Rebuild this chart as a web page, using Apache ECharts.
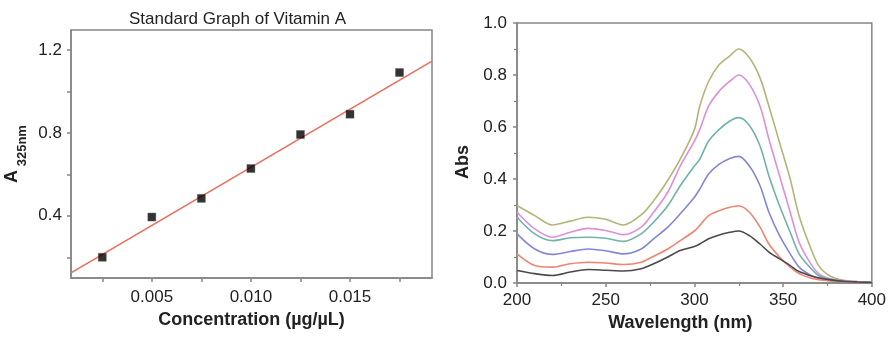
<!DOCTYPE html>
<html>
<head>
<meta charset="utf-8">
<script src="https://cdn.jsdelivr.net/npm/echarts@6/dist/echarts.min.js"></script>
<style>
  html, body { margin: 0; padding: 0; background: #fff; }
  #main { width: 889px; height: 337px; }
</style>
</head>
<body>
<div id="main"></div>
<script>
// standard curve (left)
var concX = [0.0025, 0.005, 0.0075, 0.010, 0.0125, 0.015, 0.0175];
var absY = [0.20, 0.394, 0.484, 0.628, 0.792, 0.89, 1.091];
// fitted line, read at the plot edges
var fitX = [0.00092, 0.01914];
var fitY = [0.125, 1.146];
var concTicks = [0.0025, 0.005, 0.0075, 0.010, 0.0125, 0.015, 0.0175];
var concLabels = [0.005, 0.010, 0.015];
var absTicks = [0.2, 0.4, 0.6, 0.8, 1.0, 1.2];
var absLabels = [0.4, 0.8, 1.2];

// spectra (right)
var wavelength = [200, 210, 220, 230, 240, 250, 260, 270, 277, 285, 292, 300, 303, 308, 314, 320, 325, 331, 337, 342, 348, 354, 359, 365, 370, 376, 384, 392, 400];
var olive  = [0.298, 0.259, 0.223, 0.238, 0.253, 0.245, 0.223, 0.262, 0.316, 0.395, 0.476, 0.59, 0.68, 0.775, 0.84, 0.874, 0.90, 0.866, 0.789, 0.68, 0.54, 0.40, 0.259, 0.144, 0.067, 0.029, 0.01, 0.006, 0.003];
var pink   = [0.272, 0.208, 0.176, 0.195, 0.21, 0.202, 0.186, 0.215, 0.272, 0.349, 0.45, 0.546, 0.59, 0.68, 0.738, 0.776, 0.80, 0.764, 0.68, 0.553, 0.412, 0.272, 0.157, 0.08, 0.036, 0.017, 0.008, 0.005, 0.003];
var teal   = [0.253, 0.189, 0.163, 0.174, 0.176, 0.172, 0.16, 0.189, 0.234, 0.297, 0.374, 0.45, 0.476, 0.546, 0.591, 0.623, 0.636, 0.606, 0.527, 0.412, 0.297, 0.195, 0.112, 0.061, 0.029, 0.015, 0.007, 0.004, 0.002];
var blue   = [0.189, 0.131, 0.11, 0.121, 0.131, 0.124, 0.112, 0.131, 0.17, 0.215, 0.266, 0.33, 0.361, 0.419, 0.457, 0.479, 0.487, 0.45, 0.374, 0.272, 0.182, 0.112, 0.061, 0.032, 0.017, 0.01, 0.006, 0.004, 0.002];
var orange = [0.112, 0.067, 0.061, 0.074, 0.08, 0.077, 0.071, 0.08, 0.103, 0.131, 0.163, 0.2, 0.221, 0.259, 0.278, 0.291, 0.297, 0.272, 0.215, 0.15, 0.10, 0.061, 0.036, 0.02, 0.013, 0.009, 0.006, 0.004, 0.002];
var black  = [0.048, 0.036, 0.029, 0.042, 0.052, 0.049, 0.046, 0.055, 0.074, 0.10, 0.125, 0.14, 0.15, 0.17, 0.185, 0.195, 0.20, 0.182, 0.15, 0.119, 0.093, 0.067, 0.044, 0.029, 0.02, 0.013, 0.007, 0.004, 0.002];

var spectra = [
    { name: 'c7', values: olive, color: '#b3b576' },
    { name: 'c6', values: pink, color: '#dd8fdf' },
    { name: 'c5', values: teal, color: '#6fb3ab' },
    { name: 'c4', values: blue, color: '#8486d9' },
    { name: 'c3', values: orange, color: '#ef8470' },
    { name: 'c2', values: black, color: '#4a4a4a' }
];

var FONT = 'Liberation Sans';
var boxColor = '#858585';

function zip(xs, ys) {
    return xs.map(function (x, i) { return [x, ys[i]]; });
}

var chart = echarts.init(document.getElementById('main'));

var axisCommon = {
    axisLine: { show: true, lineStyle: { color: boxColor, width: 1.5 } },
    axisTick: { show: true, inside: false, length: 4, lineStyle: { color: boxColor, width: 1.5 } },
    splitLine: { show: false },
    axisLabel: { color: '#222', fontFamily: FONT, fontSize: 17 }
};

var seriesList = [
    {
        type: 'line',
        xAxisIndex: 0, yAxisIndex: 0,
        data: zip(fitX, fitY),
        showSymbol: false,
        lineStyle: { color: '#ea6e5a', width: 1.6 },
        z: 2
    },
    {
        type: 'scatter',
        xAxisIndex: 0, yAxisIndex: 0,
        data: zip(concX, absY),
        symbol: 'rect',
        symbolSize: 8,
        itemStyle: { color: '#000', borderColor: '#555', borderWidth: 0.5 },
        z: 3
    }
];

spectra.forEach(function (s) {
    seriesList.push({
        type: 'line',
        name: s.name,
        xAxisIndex: 1, yAxisIndex: 1,
        data: zip(wavelength, s.values),
        showSymbol: false,
        smooth: 0.3,
        lineStyle: { color: s.color, width: 1.6 }
    });
});

var option = {
    animation: false,
    backgroundColor: '#fff',
    title: {
        text: 'Standard Graph of Vitamin A',
        left: 124,
        top: 6,
        textStyle: { fontFamily: FONT, fontWeight: 'normal', fontSize: 17, color: '#222' }
    },
    grid: [
        { left: 71, top: 30, width: 361, height: 248, show: true, borderColor: boxColor, borderWidth: 1.5 },
        { left: 517, top: 23, width: 355, height: 260, show: true, borderColor: boxColor, borderWidth: 1.5 }
    ],
    xAxis: [
        Object.assign({}, axisCommon, {
            gridIndex: 0,
            type: 'value',
            min: 0.00092,
            max: 0.01914,
            name: 'Concentration (µg/µL)',
            nameLocation: 'middle',
            nameGap: 33,
            nameTextStyle: { fontFamily: FONT, fontWeight: 'bold', fontSize: 18, color: '#222' },
            axisTick: Object.assign({}, axisCommon.axisTick, { customValues: concTicks }),
            axisLabel: Object.assign({}, axisCommon.axisLabel, {
                customValues: concLabels,
                margin: 11,
                formatter: function (v) { return v.toFixed(3); }
            })
        }),
        Object.assign({}, axisCommon, {
            gridIndex: 1,
            type: 'value',
            min: 200,
            max: 400,
            interval: 50,
            name: 'Wavelength (nm)',
            nameLocation: 'middle',
            nameGap: 31,
            nameTextStyle: { fontFamily: FONT, fontWeight: 'bold', fontSize: 18, color: '#222', padding: [0, 28, 0, 0] },
            minorTick: { show: true, splitNumber: 2, length: 3, lineStyle: { color: boxColor, width: 1.2 } },
            axisLabel: Object.assign({}, axisCommon.axisLabel, { margin: 9 })
        })
    ],
    yAxis: [
        Object.assign({}, axisCommon, {
            gridIndex: 0,
            type: 'value',
            min: 0.1,
            max: 1.296,
            name: '{a|A}{b| 325nm}',
            nameLocation: 'middle',
            nameGap: 42,
            nameTextStyle: {
                fontFamily: FONT, color: '#222',
                rich: {
                    a: { fontFamily: FONT, fontWeight: 'bold', fontSize: 18, lineHeight: 34, color: '#222' },
                    b: { fontFamily: FONT, fontWeight: 'bold', fontSize: 13, lineHeight: 14, verticalAlign: 'bottom', color: '#222' }
                }
            },
            axisTick: Object.assign({}, axisCommon.axisTick, { customValues: absTicks }),
            axisLabel: Object.assign({}, axisCommon.axisLabel, {
                customValues: absLabels,
                margin: 9,
                formatter: function (v) { return v.toFixed(1); }
            })
        }),
        Object.assign({}, axisCommon, {
            gridIndex: 1,
            type: 'value',
            min: 0,
            max: 1,
            interval: 0.2,
            name: 'Abs',
            nameLocation: 'middle',
            nameGap: 45,
            nameTextStyle: { fontFamily: FONT, fontWeight: 'bold', fontSize: 18, color: '#222', padding: [0, 18, 0, 0] },
            minorTick: { show: true, splitNumber: 2, length: 3, lineStyle: { color: boxColor, width: 1.2 } },
            axisLabel: Object.assign({}, axisCommon.axisLabel, {
                margin: 10,
                formatter: function (v) { return v.toFixed(1); }
            })
        })
    ],
    series: seriesList
};

chart.setOption(option);
</script>
</body>
</html>
